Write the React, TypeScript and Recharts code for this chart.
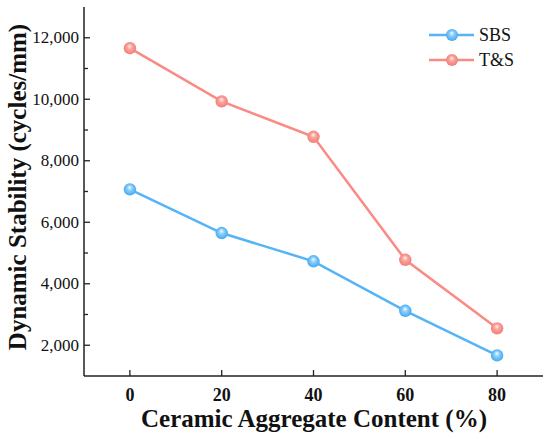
import React from 'react';
import { LineChart, Line, XAxis, YAxis } from 'recharts';

const contents = [0, 20, 40, 60, 80];
const sbsValues = [7070, 5650, 4730, 3120, 1670];
const tsValues = [11660, 9930, 8780, 4780, 2550];
const xTicks = [0, 20, 40, 60, 80];
const yTicks = [2000, 3000, 4000, 5000, 6000, 7000, 8000, 9000, 10000, 11000, 12000];

const seriesNames = ['SBS', 'T&S'];
const seriesColors = ['#55b4f8', '#fa8a84'];
const gradIds = ['gradSBS', 'gradTS'];

const data = contents.map((c, i) => ({ x: c, sbs: sbsValues[i], ts: tsValues[i] }));

const FONT = '"Liberation Serif", "Times New Roman", serif';
const AXIS = '#222';

const SphereDot = (gid: string) => (props: any) => {
  const { cx, cy } = props;
  if (cx == null || cy == null) return null;
  return <circle cx={cx} cy={cy} r={6.2} fill={`url(#${gid})`} />;
};

const YTick = (props: any) => {
  const { x, y, payload } = props;
  const v = payload.value;
  const major = v % 2000 === 0;
  return (
    <g>
      <line x1={x} x2={x + (major ? 6 : 4)} y1={y} y2={y} stroke={AXIS} strokeWidth={1.3} />
      {major && (
        <text x={x - 5} y={y} textAnchor="end" dominantBaseline="central" fontFamily={FONT} fontSize={17} fill="#111">
          {v.toLocaleString('en-US')}
        </text>
      )}
    </g>
  );
};

const XTick = (props: any) => {
  const { x, y, payload } = props;
  return (
    <g>
      <line x1={x} x2={x} y1={y} y2={y - 6} stroke={AXIS} strokeWidth={1.3} />
      <text x={x} y={y + 19} textAnchor="middle" dominantBaseline="central" fontFamily={FONT} fontSize={18} fontWeight="bold" fill="#111">
        {payload.value}
      </text>
    </g>
  );
};

const XLabel = () => (
  <text x={314} y={418} textAnchor="middle" dominantBaseline="central" fontFamily={FONT} fontSize={25} fontWeight="bold" fill="#111">
    Ceramic Aggregate Content (%)
  </text>
);

const YLabel = () => (
  <text x={17} y={187} transform="rotate(-90 17 187)" textAnchor="middle" dominantBaseline="central" fontFamily={FONT} fontSize={25} fontWeight="bold" fill="#111">
    Dynamic Stability (cycles/mm)
  </text>
);

const LegendOverlay = () => (
  <svg width={110} height={50} style={{ position: 'absolute', left: 425, top: 22 }}>
    {seriesNames.map((n, i) => {
      const cy = 13 + i * 25;
      return (
        <g key={n}>
          <line x1={4} x2={49} y1={cy} y2={cy} stroke={seriesColors[i]} strokeWidth={2.5} />
          <circle cx={27} cy={cy} r={6} fill={`url(#${gradIds[i]})`} />
          <text x={54} y={cy} dominantBaseline="central" fontFamily={FONT} fontSize={18} fill="#111">
            {n}
          </text>
        </g>
      );
    })}
  </svg>
);

export default function App() {
  return (
    <div style={{ position: 'absolute', left: 0, top: 0, width: 550, height: 439, background: '#fff' }}>
      <svg width={0} height={0} style={{ position: 'absolute' }}>
        <defs>
          <radialGradient id="gradSBS" cx="0.5" cy="0.5" r="0.55" fx="0.48" fy="0.32">
            <stop offset="0" stopColor="#f4fbff" />
            <stop offset="0.4" stopColor="#86cdfc" />
            <stop offset="1" stopColor="#3ea3ec" />
          </radialGradient>
          <radialGradient id="gradTS" cx="0.5" cy="0.5" r="0.55" fx="0.48" fy="0.32">
            <stop offset="0" stopColor="#fff2f1" />
            <stop offset="0.4" stopColor="#fca29c" />
            <stop offset="1" stopColor="#ee7a72" />
          </radialGradient>
        </defs>
      </svg>
      <LineChart width={550} height={439} data={data} margin={{ top: 7, right: 7, left: 0, bottom: 0 }}>
        <XAxis
          dataKey="x"
          type="number"
          domain={[-10, 90]}
          ticks={xTicks}
          tick={<XTick />}
          tickSize={0}
          tickMargin={0}
          tickLine={false}
          height={63}
          axisLine={{ stroke: AXIS, strokeWidth: 1.5 }}
          label={<XLabel />}
        />
        <XAxis xAxisId="top" orientation="top" type="number" domain={[-10, 90]} tick={false} tickLine={false} height={0} axisLine={{ stroke: AXIS, strokeWidth: 1.5 }} />
        <YAxis
          type="number"
          domain={[1000, 13000]}
          ticks={yTicks}
          interval={0}
          tick={<YTick />}
          tickSize={0}
          tickMargin={0}
          tickLine={false}
          width={84}
          axisLine={{ stroke: AXIS, strokeWidth: 1.5 }}
          label={<YLabel />}
        />
        <YAxis yAxisId="right" orientation="right" type="number" domain={[1000, 13000]} tick={false} tickLine={false} width={0} axisLine={{ stroke: AXIS, strokeWidth: 1.5 }} />
        <Line dataKey="sbs" name="SBS" stroke={seriesColors[0]} strokeWidth={2.5} dot={SphereDot(gradIds[0])} isAnimationActive={false} />
        <Line dataKey="ts" name="T&S" stroke={seriesColors[1]} strokeWidth={2.5} dot={SphereDot(gradIds[1])} isAnimationActive={false} />
      </LineChart>
      <LegendOverlay />
    </div>
  );
}
